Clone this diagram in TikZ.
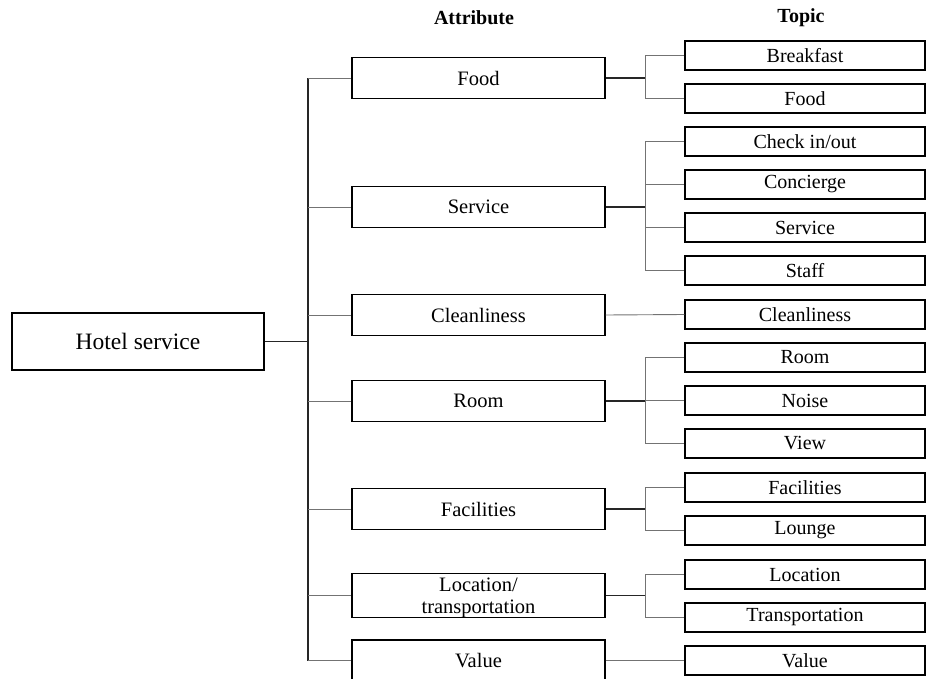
\documentclass[tikz,border=0pt]{standalone}
\usepackage{fontspec}
\setmainfont{Liberation Serif}
\begin{document}
\begin{tikzpicture}[x=1pt,y=-1pt,
  box/.style={draw=black,line width=1.2pt,fill=white,inner sep=0pt,align=center},
  rootbox/.style={box,minimum width=252pt,minimum height=57pt,font=\fontsize{23.5}{26}\selectfont},
  attrbox/.style={box,minimum width=253pt,minimum height=41pt,font=\fontsize{20.5}{22}\selectfont},
  topicbox/.style={box,minimum width=240pt,minimum height=29pt,font=\fontsize{20}{21}\selectfont},
  head/.style={font=\bfseries\fontsize{20}{22}\selectfont},
  mainline/.style={draw=black!85,line width=1.3pt},
  subline/.style={draw=black!55,line width=0.9pt}]
\useasboundingbox (0,0) rectangle (926,679);
\clip (0,0) rectangle (926,679);

% column headings
\node[head] (hAttr) at (474,18) {Attribute};
\node[head] (hTopic) at (801,18) {Topic};

% root
\node[rootbox] (hotel) at (138,341.5) {Hotel service};

% attributes
\node[attrbox] (aFood)  at (478.5,78)  {Food};
\node[attrbox] (aServ)  at (478.5,207) {Service};
\node[attrbox] (aClean) at (478.5,315) {Cleanliness};
\node[attrbox] (aRoom)  at (478.5,401) {Room};
\node[attrbox] (aFac)   at (478.5,509) {Facilities};
\node[attrbox] (aLoc)   at (478.5,595.5)
  {\raisebox{-3pt}[\height][\depth]{\begin{tabular}{@{}c@{}}Location/\\transportation\end{tabular}}};
\node[attrbox] (aVal)   at (478.5,660.5) {Value};

% topics
\node[topicbox] (tBreak) at (805,55.5)  {Breakfast};
\node[topicbox] (tFood)  at (805,98.5)  {Food};
\node[topicbox] (tCheck) at (805,141.5) {Check in/out};
\node[topicbox] (tConc)  at (805,184.5) {Concierge};
\node[topicbox] (tServ)  at (805,227.5) {Service};
\node[topicbox] (tStaff) at (805,270.5) {Staff};
\node[topicbox] (tClean) at (805,314.5) {Cleanliness};
\node[topicbox] (tRoom)  at (805,357.5) {Room};
\node[topicbox] (tNoise) at (805,400.5) {Noise};
\node[topicbox] (tView)  at (805,443.5) {View};
\node[topicbox] (tFac)   at (805,487.5) {Facilities};
\node[topicbox] (tLng)   at (805,530.5) {Lounge};
\node[topicbox] (tLoc)   at (805,574.5) {Location};
\node[topicbox] (tTrans) at (805,617.5) {Transportation};
\node[topicbox] (tVal)   at (805,660.5) {Value};

% branch columns
\coordinate (tr) at (308,0);
\coordinate (br) at (645,0);

% root to attributes
\draw[mainline] (hotel.east) -- (hotel.east -| tr);
\draw[mainline] (aFood.west -| tr) -- (aVal.west -| tr);
\foreach \a in {aFood,aServ,aClean,aRoom,aFac,aLoc,aVal}
  \draw[subline] (\a.west -| tr) -- (\a.west);

% attributes to topics
\foreach \a in {aFood,aServ,aRoom,aFac,aLoc}
  \draw[mainline] (\a.east) -- (\a.east -| br);
\draw[subline] (tBreak.west -| br) -- (tFood.west -| br);
\draw[subline] (tCheck.west -| br) -- (tStaff.west -| br);
\draw[subline] (tRoom.west -| br) -- (tView.west -| br);
\draw[subline] (tFac.west -| br) -- (tLng.west -| br);
\draw[subline] (tLoc.west -| br) -- (tTrans.west -| br);
\foreach \t in {tBreak,tFood,tCheck,tConc,tServ,tStaff,tRoom,tNoise,tView,tFac,tLng,tLoc,tTrans}
  \draw[subline] (\t.west -| br) -- (\t.west);
\draw[subline] (aClean.east) -- (tClean.west);
\draw[subline] (aVal.east) -- (tVal.west);
\end{tikzpicture}
\end{document}
